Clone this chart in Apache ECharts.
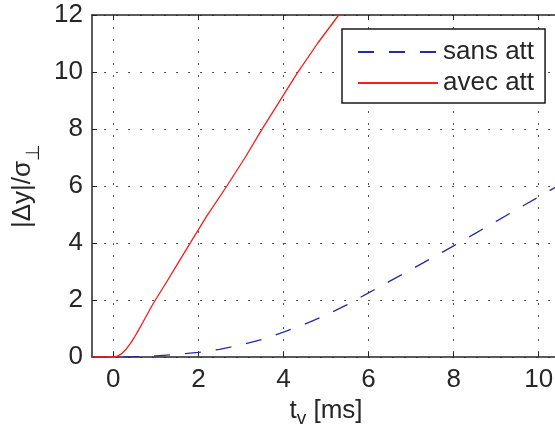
<!DOCTYPE html>
<html>
<head>
<meta charset="utf-8">
<script src="https://cdn.jsdelivr.net/npm/echarts@6/dist/echarts.min.js"></script>
<style>
html,body{margin:0;padding:0;background:#fff;}
#chart{width:555px;height:430px;}
</style>
</head>
<body>
<div id="chart"></div>
<script>
// ---- data ----
var xTicks = [0, 2, 4, 6, 8, 10];
var yTicks = [0, 2, 4, 6, 8, 10, 12];
var seriesNames = ['sans att', 'avec att'];
var xSans = [-0.5, 0, 0.5, 1, 1.5, 2, 2.5, 3, 3.5, 4, 4.5, 5, 5.5, 6, 6.5, 7, 7.5, 8, 8.5, 9, 9.5, 10, 10.5];
var ySans = [0, 0, 0.01, 0.04, 0.09, 0.16, 0.27, 0.42, 0.62, 0.87, 1.15, 1.47, 1.84, 2.25, 2.66, 3.07, 3.48, 3.9, 4.33, 4.76, 5.19, 5.62, 6.05];
var xAvec = [-0.5, 0, 0.1, 0.2, 0.3, 0.4, 0.5, 0.6, 0.7, 0.8, 0.9, 0.96, 1.2, 1.5, 1.8, 2.2, 2.67, 3.1, 3.48, 3.9, 4.32, 4.8, 5.3, 5.5];
var yAvec = [0, 0, 0.03, 0.12, 0.27, 0.47, 0.7, 0.96, 1.23, 1.5, 1.77, 1.93, 2.5, 3.24, 3.98, 4.95, 6.0, 7.0, 7.95, 8.95, 9.95, 11.0, 12.0, 12.4];

function pairs(xs, ys) { return xs.map(function (x, i) { return [x, ys[i]]; }); }

var FONT = "'Liberation Sans', Arial, Helvetica, sans-serif";
var FS = 26;
var TXT = '#262626';
var AX = '#262626';
var GRIDLINE = { show: true, lineStyle: { color: '#555', width: 1, type: [2, 10] } };

var chart = echarts.init(document.getElementById('chart'), null, { renderer: 'canvas' });
chart.setOption({
  animation: false,
  backgroundColor: '#fff',
  textStyle: { fontFamily: FONT },
  grid: { left: 92, right: -5, top: 15, bottom: 73, containLabel: false, outerBoundsMode: 'none' },
  legend: {
    data: seriesNames,
    orient: 'vertical',
    left: 342, top: 29,
    padding: [9, 11, 6, 15],
    itemWidth: 80, itemHeight: 14, itemGap: 3, itemTextGap: 8,
    backgroundColor: '#fff',
    borderColor: '#1a1a1a', borderWidth: 1.5, borderRadius: 0,
    itemStyle: { opacity: 0 },
    textStyle: { fontSize: FS, color: TXT, fontFamily: FONT, lineHeight: 28 }
  },
  xAxis: [{
    type: 'value', min: -0.5, max: 10.5, position: 'bottom',
    name: 't{sub|v} [ms]', nameLocation: 'middle', nameGap: 35,
    nameTextStyle: { fontSize: FS, color: TXT, fontFamily: FONT,
      rich: { sub: { fontSize: 19, padding: [15, 0, 0, 0], verticalAlign: 'top', color: TXT, fontFamily: FONT } } },
    axisLine: { show: true, onZero: false, lineStyle: { color: AX, width: 1.5 } },
    axisTick: { show: true, inside: true, length: 5, customValues: xTicks, lineStyle: { color: AX, width: 1 } },
    axisLabel: { customValues: xTicks, fontSize: FS, color: TXT, fontFamily: FONT, margin: 10 },
    splitLine: GRIDLINE
  }, {
    type: 'value', min: -0.5, max: 10.5, position: 'top',
    axisLine: { show: true, onZero: false, lineStyle: { color: AX, width: 1.5 } },
    axisTick: { show: true, inside: true, length: 5, customValues: xTicks, lineStyle: { color: AX, width: 1 } },
    axisLabel: { show: false },
    splitLine: { show: false }
  }],
  yAxis: [{
    type: 'value', min: 0, max: 12, interval: 2, position: 'left',
    name: '|Δy|/σ{sub|⊥}', nameLocation: 'middle', nameGap: 55, nameRotate: 90,
    nameTextStyle: { fontSize: FS, color: TXT, fontFamily: FONT, verticalAlign: 'top', lineHeight: 28,
      rich: { sub: { fontSize: 19, lineHeight: 19, padding: [15, 0, 0, 0], verticalAlign: 'top', color: TXT, fontFamily: FONT } } },
    axisLine: { show: true, onZero: false, lineStyle: { color: AX, width: 1.5 } },
    axisTick: { show: true, inside: true, length: 5, lineStyle: { color: AX, width: 1 } },
    axisLabel: { fontSize: FS, color: TXT, fontFamily: FONT, margin: 9 },
    splitLine: GRIDLINE
  }, {
    type: 'value', min: 0, max: 12, interval: 2, position: 'right',
    axisLine: { show: true, onZero: false, lineStyle: { color: AX, width: 1.5 } },
    axisTick: { show: true, inside: true, length: 5 },
    axisLabel: { show: false }, splitLine: { show: false }
  }],
  series: [{
    name: seriesNames[0], type: 'line', xAxisIndex: 0, yAxisIndex: 0,
    data: pairs(xSans, ySans), smooth: false, symbol: 'none', clip: true,
    lineStyle: { color: '#2a2aa0', width: 1.3, type: [16, 15] },
    itemStyle: { color: '#2a2aa0' }
  }, {
    name: seriesNames[1], type: 'line', xAxisIndex: 0, yAxisIndex: 0,
    data: pairs(xAvec, yAvec), smooth: false, symbol: 'none', clip: true,
    lineStyle: { color: '#ff1a1a', width: 1.3, type: 'solid' },
    itemStyle: { color: '#ff1a1a' }
  }]
});
</script>
</body>
</html>
